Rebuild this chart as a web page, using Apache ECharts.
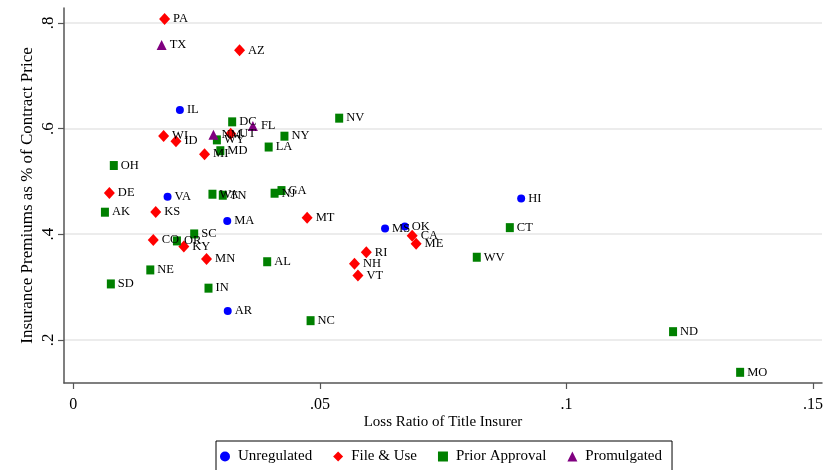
<!DOCTYPE html>
<html>
<head>
<meta charset="utf-8">
<script src="https://cdn.jsdelivr.net/npm/echarts@6/dist/echarts.min.js"></script>
<style>
  html, body { margin: 0; padding: 0; background: #fff; }
  #main { width: 836px; height: 470px; }
</style>
</head>
<body>
<div id="main"></div>
<script>
// tick labels
var xTicks = [0, 0.05, 0.1, 0.15];
var yTicks = [0.2, 0.4, 0.6, 0.8];

// Unregulated
var unregNames = ['IL', 'VA', 'MA', 'AR', 'MS', 'OK', 'HI'];
var unregX = [0.0216, 0.0191, 0.0312, 0.0313, 0.0632, 0.0672, 0.0908];
var unregY = [0.635, 0.471, 0.425, 0.255, 0.411, 0.4145, 0.4675];

// File & Use
var fileNames = ['PA', 'AZ', 'WI', 'UT', 'ID', 'MI', 'DE', 'KS', 'MT', 'CO', 'KY', 'MN', 'RI', 'NH', 'VT', 'CA', 'ME'];
var fileX = [0.0185, 0.0337, 0.0183, 0.0319, 0.0208, 0.0266, 0.0073, 0.0167, 0.0474, 0.0162, 0.0224, 0.0270, 0.0594, 0.0570, 0.0577, 0.0687, 0.0695];
var fileY = [0.807, 0.748, 0.586, 0.590, 0.576, 0.5515, 0.478, 0.442, 0.431, 0.389, 0.377, 0.353, 0.366, 0.344, 0.322, 0.397, 0.382];

// Prior Approval
var priorNames = ['DC', 'NV', 'WY', 'NY', 'MD', 'LA', 'OH', 'WA', 'TN', 'NJ', 'GA', 'AK', 'SC', 'OR', 'AL', 'NE', 'SD', 'IN', 'NC', 'CT', 'WV', 'ND', 'MO'];
var priorX = [0.0322, 0.0539, 0.0291, 0.0428, 0.0298, 0.0396, 0.0082, 0.0282, 0.0303, 0.0408, 0.0422, 0.0064, 0.0245, 0.0210, 0.0393, 0.0156, 0.0076, 0.0274, 0.0481, 0.0885, 0.0818, 0.1216, 0.1352];
var priorY = [0.6126, 0.6196, 0.5785, 0.5855, 0.558, 0.565, 0.530, 0.4757, 0.4738, 0.4776, 0.4826, 0.4417, 0.4006, 0.3874, 0.348, 0.3325, 0.306, 0.298, 0.2365, 0.4125, 0.3565, 0.2157, 0.1388];

// Promulgated
var promNames = ['TX', 'NM', 'FL'];
var promX = [0.0179, 0.0284, 0.0364];
var promY = [0.758, 0.588, 0.605];

var serifFont = "'Liberation Serif', 'Times New Roman', serif";

function points(names, xs, ys) {
  var out = [];
  for (var i = 0; i < names.length; i++) {
    out.push({ name: names[i], value: [xs[i], ys[i]] });
  }
  return out;
}

function fmt(v) {
  if (v === 0) return '0';
  return String(v).replace(/^0\./, '.');
}

function makeSeries(name, symbol, size, color, data) {
  return {
    name: name,
    type: 'scatter',
    symbol: symbol,
    symbolSize: size,
    itemStyle: { color: color, opacity: 1 },
    label: {
      show: true,
      position: 'right',
      distance: 3,
      formatter: '{b}',
      color: '#000',
      fontFamily: serifFont,
      fontSize: 12.5
    },
    emphasis: { disabled: true },
    data: data
  };
}

var myChart = echarts.init(document.getElementById('main'));
myChart.setOption({
  animation: false,
  backgroundColor: '#fff',
  grid: { left: 64, right: 14, top: 8, bottom: 87 },
  legend: {
    left: 216,
    top: 441,
    borderColor: '#000',
    borderWidth: 1,
    padding: [8, 10, 10, 4],
    itemWidth: 10,
    itemHeight: 10,
    itemGap: 21,
    textStyle: { fontFamily: serifFont, fontSize: 15, color: '#000', padding: [0, 0, 0, 3] },
    data: [
      { name: 'Unregulated', icon: 'circle' },
      { name: 'File & Use', icon: 'diamond' },
      { name: 'Prior Approval', icon: 'rect' },
      { name: 'Promulgated', icon: 'triangle' }
    ]
  },
  xAxis: {
    type: 'value',
    min: -0.0019,
    max: 0.1518,
    name: 'Loss Ratio of Title Insurer',
    nameLocation: 'middle',
    nameGap: 32,
    nameMoveOverlap: false,
    nameTextStyle: { fontFamily: serifFont, fontSize: 15, color: '#000' },
    axisLine: { show: true, onZero: false, lineStyle: { color: '#555', width: 1.5 } },
    axisTick: { show: true, customValues: xTicks, length: 6, lineStyle: { color: '#555', width: 1.2 } },
    axisLabel: { customValues: xTicks, formatter: fmt, margin: 14, fontFamily: serifFont, fontSize: 16, color: '#000' },
    splitLine: { show: false }
  },
  yAxis: {
    type: 'value',
    min: 0.1186,
    max: 0.828,
    name: 'Insurance Premiums as % of Contract Price',
    nameLocation: 'middle',
    nameGap: 28,
    nameMoveOverlap: false,
    nameTextStyle: { fontFamily: serifFont, fontSize: 17, color: '#000' },
    axisLine: { show: true, onZero: false, lineStyle: { color: '#555', width: 1.5 } },
    axisTick: { show: true, customValues: yTicks, length: 6, lineStyle: { color: '#555', width: 1.2 } },
    axisLabel: { customValues: yTicks, formatter: fmt, rotate: 90, margin: 7, fontFamily: serifFont, fontSize: 17, color: '#000' },
    splitLine: { show: true, lineStyle: { color: '#e6e6e6', width: 1.5 } }
  },
  series: [
    makeSeries('Unregulated', 'circle', 8, '#0000ff', points(unregNames, unregX, unregY)),
    makeSeries('File & Use', 'diamond', [11, 12], '#ff0000', points(fileNames, fileX, fileY)),
    makeSeries('Prior Approval', 'rect', [8, 9], '#008000', points(priorNames, priorX, priorY)),
    makeSeries('Promulgated', 'triangle', 10, '#800080', points(promNames, promX, promY))
  ]
});
</script>
</body>
</html>
